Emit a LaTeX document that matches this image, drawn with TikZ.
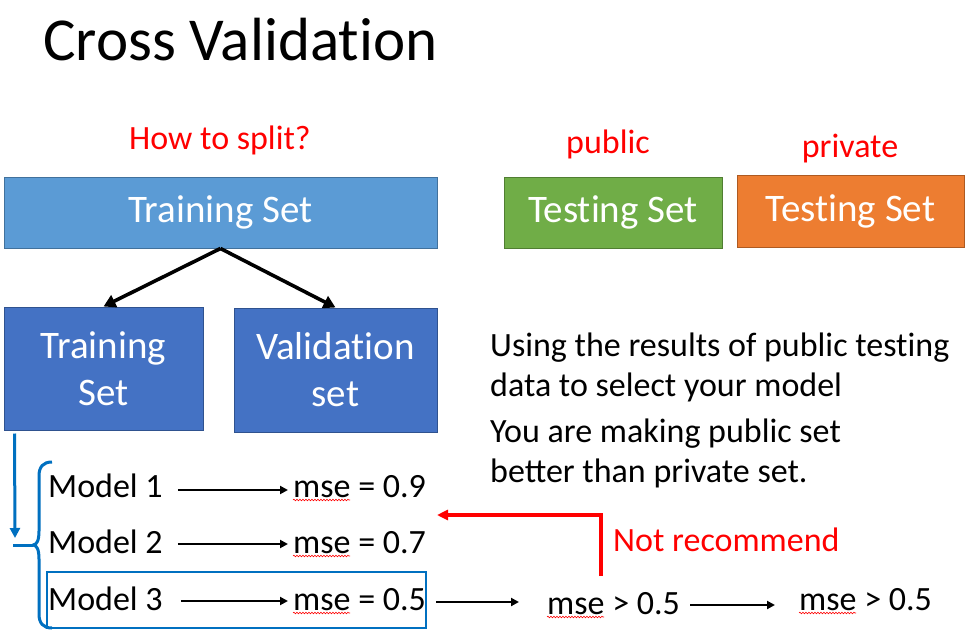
\documentclass[tikz,border=0pt]{standalone}
\usepackage{fontspec}
\setmainfont{Carlito}
\usetikzlibrary{arrows.meta,decorations.pathmorphing}

% keep "t" and "i" as separate letters
\newcommand{\tsep}{t\kern0pt}

\definecolor{skyblue}{HTML}{5B9BD5}
\definecolor{skyedge}{HTML}{41719C}
\definecolor{setblue}{HTML}{4472C4}
\definecolor{setedge}{HTML}{2F528F}
\definecolor{pubgreen}{HTML}{70AD47}
\definecolor{pubedge}{HTML}{507E32}
\definecolor{privorange}{HTML}{ED7D31}
\definecolor{privedge}{HTML}{AE5A21}
\definecolor{linkblue}{HTML}{0070C0}
\definecolor{alertred}{HTML}{FF0000}

\tikzset{
  x=1pt, y=-1pt,
  txt/.style={inner sep=0pt, anchor=base west, font=\fontsize{34}{40}\selectfont},
  redtxt/.style={inner sep=0pt, anchor=base, text=alertred, font=\fontsize{34}{40}\selectfont},
  setbox/.style={draw=#1, line width=1pt, inner sep=0pt, text=white,
    align=center, font=\fontsize{39}{47}\selectfont},
  splitarrow/.style={line width=3.6pt, -{Triangle[length=12pt,width=13pt]}},
  thinarrow/.style={line width=2.4pt, -{Triangle[length=8pt,width=8pt]}},
  backarrow/.style={line width=3.2pt, alertred, -{Triangle[length=11pt,width=10pt]}},
  blueline/.style={linkblue, line width=3pt},
  spell/.style={alertred, line width=0.6pt, decorate,
    decoration={snake, amplitude=0.8pt, segment length=3pt}}
}

\begin{document}
\begin{tikzpicture}
\useasboundingbox[fill=white] (0,0) rectangle (974,642);

% title and section labels
\node[txt, font=\fontsize{61}{70}\selectfont] (title) at (43,61) {Cross Valida\tsep ion};
\node[redtxt] (split) at (220,149) {How to split?};
\node[redtxt] (pub) at (608,153) {public};
\node[redtxt] (priv) at (850,157) {private};

% data sets
\node[setbox=skyedge, fill=skyblue, minimum width=433pt, minimum height=71pt]
  (full) at (220.5,212.5) {\raisebox{-2pt}{Training Set}};
\node[setbox=pubedge, fill=pubgreen, minimum width=218pt, minimum height=71pt]
  (pubset) at (613,212.5) {\raisebox{-2pt}{Tes\tsep ing Set}};
\node[setbox=privedge, fill=privorange, minimum width=227pt, minimum height=72pt]
  (privset) at (850.5,211) {\raisebox{-2pt}{Tes\tsep ing Set}};
\node[setbox=setedge, fill=setblue, minimum width=199pt, minimum height=123pt]
  (trn) at (103.5,368.5) {Training\\Set};
\node[setbox=setedge, fill=setblue, minimum width=203pt, minimum height=124pt]
  (val) at (335.5,370) {Valida\tsep ion\\set};

\draw[splitarrow] (full.south) -- (trn.north);
\draw[splitarrow] (full.south) -- (val.north);

% remarks
\node[txt] (r1) at (490,356) {Using the results of public tes\tsep ing};
\node[txt] (r2) at (490,396) {data to select your model};
\node[txt] (r3) at (490,442) {You are making public set};
\node[txt] (r4) at (490,482) {better than private set.};

% models and their errors
\node[txt] (m1) at (48,497) {Model 1};
\node[txt] (m2) at (48,553) {Model 2};
\node[txt] (m3) at (48,610) {Model 3};
\node[txt] (e1) at (293,497) {mse = 0.9};
\node[txt] (e2) at (293,553) {mse = 0.7};
\node[txt] (e3) at (293,610) {mse = 0.5};
\node[txt] (g1) at (547,614) {mse > 0.5};
\node[txt] (g2) at (799,610) {mse > 0.5};

\draw[thinarrow] ([xshift=15pt,yshift=7pt]m1.base east) -- ([xshift=-5pt,yshift=7pt]e1.base west);
\draw[thinarrow] ([xshift=15pt,yshift=9pt]m2.base east) -- ([xshift=-5pt,yshift=9pt]e2.base west);
\draw[thinarrow] ([xshift=18pt,yshift=9pt]m3.base east) -- ([xshift=-5pt,yshift=9pt]e3.base west);
\draw[thinarrow] ([xshift=10pt,yshift=8pt]e3.base east) -- ([xshift=-28pt,yshift=12pt]g1.base west);
\draw[thinarrow] ([xshift=10pt,yshift=9pt]g1.base east) -- ([xshift=-24pt,yshift=5pt]g2.base west);

% spelling marks under "mse"
\foreach \n in {e1,e2,e3,g1,g2}
  \draw[spell] ([yshift=-3pt]\n.base west) -- ++(57,0);

% selected model
\node[draw=linkblue, line width=2.8pt, minimum width=379pt, minimum height=56pt,
  inner sep=0pt] (sel) at (236.5,600) {};

% validation feeds the model list
\coordinate (drop) at (15,538);
\coordinate (bracetip) at (33,545);
\draw[blueline, -{Triangle[length=10pt,width=10pt]}]
  ([xshift=11pt,yshift=-3pt]trn.south west) -- (drop);
\draw[blueline] (13,545) -- (bracetip);
\draw[blueline, line join=round]
  (52,462) .. controls (43,462) and (39,467) .. (39,476) -- (39,531)
  .. controls (39,540) and (37,545) .. (bracetip)
  .. controls (37,545) and (39,550) .. (39,559) -- (39,614)
  .. controls (39,623) and (43,628) .. (52,628);

% feedback from the public score
\coordinate (nrfoot) at (601,576);
\coordinate (nrback) at (437,515);
\draw[backarrow] (nrfoot) |- (nrback);
\node[txt, text=alertred] (nr) at (613,551) {Not recommend};
\end{tikzpicture}
\end{document}
